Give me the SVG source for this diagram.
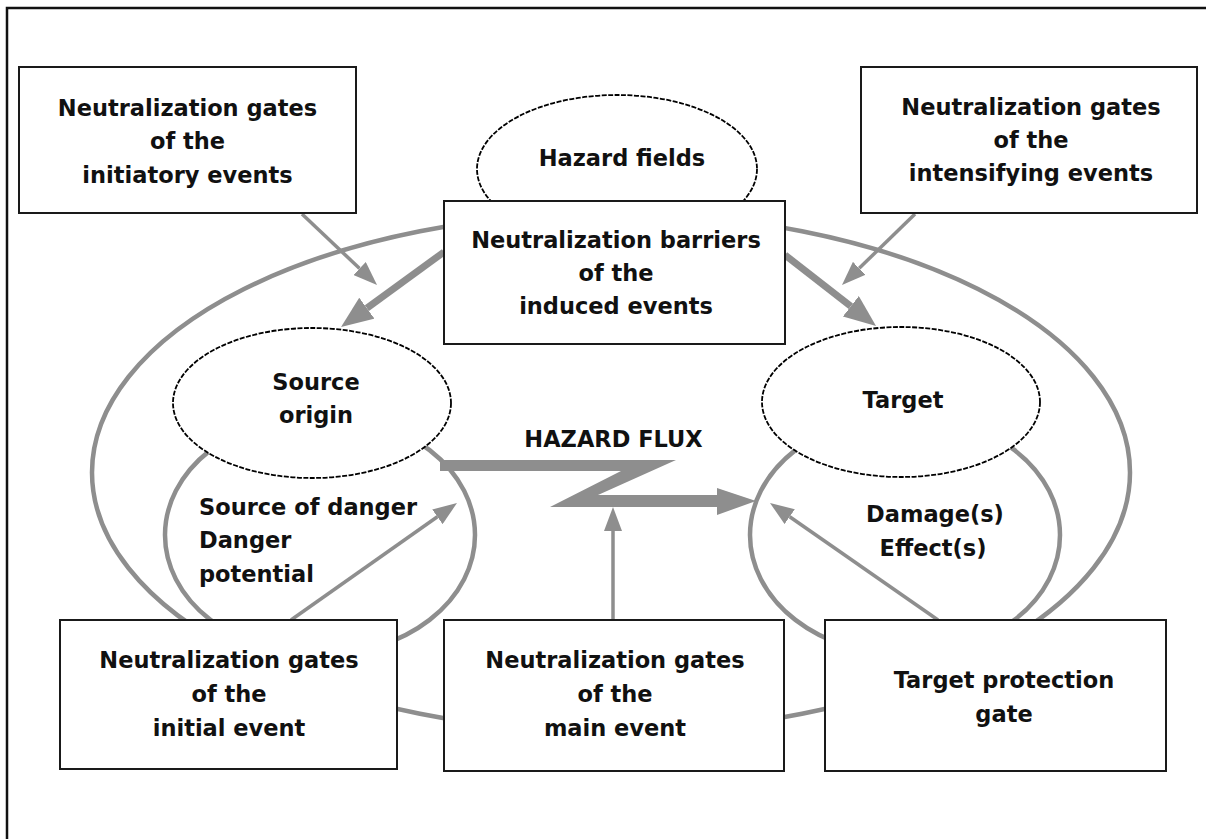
<svg xmlns="http://www.w3.org/2000/svg" width="1206" height="839" viewBox="0 0 1206 839">
<style>
.t{font-family:"DejaVu Sans","Liberation Sans",sans-serif;font-weight:bold;font-size:22.5px;fill:#111;text-anchor:middle}
.tl{text-anchor:start}
.box{fill:#fff;stroke:#1a1a1a;stroke-width:2}
.ell{fill:#fff;stroke:#000;stroke-width:1.8;stroke-dasharray:5 1.5}
.loop{fill:none;stroke:#8e8e8e;stroke-width:4.5}
.ar{fill:none;stroke:#8e8e8e;stroke-width:3.5}
.ark{fill:none;stroke:#8e8e8e;stroke-width:7}
</style>
<defs>
<marker id="ah" markerUnits="userSpaceOnUse" viewBox="0 0 24 18" markerWidth="24" markerHeight="18" refX="0" refY="9" orient="auto">
<path d="M0,0 L24,9 L0,18 z" fill="#8e8e8e"/>
</marker>
<marker id="ahk" markerUnits="userSpaceOnUse" viewBox="0 0 32 26" markerWidth="32" markerHeight="26" refX="0" refY="13" orient="auto">
<path d="M0,0 L32,13 L0,26 z" fill="#8e8e8e"/>
</marker>
</defs>
<rect width="1206" height="839" fill="#fff"/>
<path d="M7,839 V8 H1206" fill="none" stroke="#111" stroke-width="2.5"/>

<g id="connectors">
<ellipse class="loop" cx="611" cy="472.5" rx="519" ry="259.5"/>
<ellipse class="loop" cx="320" cy="535" rx="155" ry="120"/>
<ellipse class="loop" cx="905" cy="535" rx="155" ry="120"/>
<polygon points="440,460 676,460 598,495 717,495 717,488 756,501 717,515 717,507 550,507 621,471 440,471" fill="#8e8e8e"/>
<path class="ar" d="M302,214 L359.6,268.5" marker-end="url(#ah)"/>
<path class="ar" d="M915,214 L859.2,268.3" marker-end="url(#ah)"/>
<path class="ark" d="M444,252 L366.9,308.2" marker-end="url(#ahk)"/>
<path class="ark" d="M785,255 L850.8,306.3" marker-end="url(#ahk)"/>
<path class="ar" d="M291,620 L437.4,516.8" marker-end="url(#ah)"/>
<path class="ar" d="M613,620 L613,531" marker-end="url(#ah)"/>
<path class="ar" d="M938,620 L789.7,516.7" marker-end="url(#ah)"/>
</g>

<g id="hazard-fields">
<ellipse class="ell" cx="617" cy="169" rx="140" ry="74"/>
<text class="t" x="622" y="166">Hazard fields</text>
</g>
<g id="source-origin">
<ellipse class="ell" cx="312" cy="403" rx="139" ry="75"/>
<text class="t" x="316" y="390">Source</text>
<text class="t" x="316" y="423">origin</text>
</g>
<g id="target">
<ellipse class="ell" cx="901" cy="402" rx="139" ry="75"/>
<text class="t" x="903" y="408">Target</text>
</g>
<g id="source-of-danger">
<text class="t tl" x="199" y="515">Source of danger</text>
<text class="t tl" x="199" y="548">Danger</text>
<text class="t tl" x="199" y="582">potential</text>
</g>
<g id="damage">
<text class="t" x="935" y="522">Damage(s)</text>
<text class="t" x="933" y="556">Effect(s)</text>
</g>
<g id="hazard-flux">
<text class="t" x="613.5" y="447">HAZARD FLUX</text>
</g>

<g id="gates-initiatory">
<rect class="box" x="19" y="67" width="337" height="146"/>
<text class="t" x="187.5" y="116">Neutralization gates</text>
<text class="t" x="187.5" y="149">of the</text>
<text class="t" x="187.5" y="183">initiatory events</text>
</g>
<g id="gates-intensifying">
<rect class="box" x="861" y="67" width="336" height="146"/>
<text class="t" x="1031" y="115">Neutralization gates</text>
<text class="t" x="1031" y="148">of the</text>
<text class="t" x="1031" y="181">intensifying events</text>
</g>
<g id="barriers-induced">
<rect class="box" x="444" y="201" width="341" height="143"/>
<text class="t" x="616" y="248">Neutralization barriers</text>
<text class="t" x="616" y="281">of the</text>
<text class="t" x="616" y="314">induced events</text>
</g>
<g id="gates-initial">
<rect class="box" x="60" y="620" width="337" height="149"/>
<text class="t" x="229" y="668">Neutralization gates</text>
<text class="t" x="229" y="702">of the</text>
<text class="t" x="229" y="736">initial event</text>
</g>
<g id="gates-main">
<rect class="box" x="444" y="620" width="340" height="151"/>
<text class="t" x="615" y="668">Neutralization gates</text>
<text class="t" x="615" y="702">of the</text>
<text class="t" x="615" y="736">main event</text>
</g>
<g id="target-protection">
<rect class="box" x="825" y="620" width="341" height="151"/>
<text class="t" x="1004" y="688">Target protection</text>
<text class="t" x="1004" y="722">gate</text>
</g>
</svg>
